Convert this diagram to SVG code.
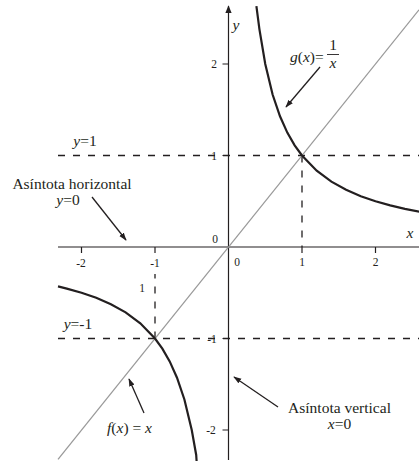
<svg xmlns="http://www.w3.org/2000/svg" width="419" height="461" viewBox="0 0 419 461">
<style>
text{font-family:"Liberation Serif","Times New Roman",serif;fill:#231f20}
.lbl{font-size:15.5px}
.tick{font-size:11.5px}
.it{font-style:italic}
.axis{stroke:#231f20;stroke-width:1.2;fill:none}
.dash{stroke:#231f20;stroke-width:1.3;stroke-dasharray:7 8;fill:none}
.curve{stroke:#231f20;stroke-width:2.2;fill:none}
.idl{stroke:#9a9a9a;stroke-width:1.3;fill:none}
.arr{stroke:#231f20;stroke-width:1.3;fill:none;marker-end:url(#ah)}
</style>
<defs>
<marker id="ah" viewBox="0 0 10 10" refX="9" refY="5" markerWidth="8" markerHeight="8" markerUnits="userSpaceOnUse" orient="auto">
<path d="M0,1.5 L10,5 L0,8.5 Z" fill="#231f20"/>
</marker>
<marker id="axh" viewBox="0 0 10 10" refX="9" refY="5" markerWidth="8" markerHeight="8" markerUnits="userSpaceOnUse" orient="auto">
<path d="M0,1 L10,5 L0,9 Z" fill="#231f20"/>
</marker>
</defs>
<g id="axes">
<line class="axis" x1="58" y1="247" x2="419" y2="247"/>
<line class="axis" x1="228.5" y1="460" x2="228.5" y2="6" marker-end="url(#axh)"/>
<path class="axis" d="M81.5,247v6M155,247v6M302,247v6M375.5,247v6M222.5,64h6M222.5,155.5h6M222.5,338.5h6M222.5,430h6"/>
<text class="tick" x="81" y="267" text-anchor="middle">-2</text>
<text class="tick" x="155" y="267" text-anchor="middle">-1</text>
<text class="tick" x="302" y="266" text-anchor="middle">1</text>
<text class="tick" x="375.5" y="266" text-anchor="middle">2</text>
<text class="tick" x="237" y="266" text-anchor="middle">0</text>
<text class="tick" x="215" y="243" text-anchor="middle">0</text>
<text class="tick" x="214" y="68" text-anchor="middle">2</text>
<text class="tick" x="214" y="160" text-anchor="middle">1</text>
<text class="tick" x="212" y="343" text-anchor="middle">-1</text>
<text class="tick" x="211" y="434" text-anchor="middle">-2</text>
<text class="lbl it" x="410" y="238" text-anchor="middle">x</text>
<text class="lbl it" x="236" y="30" text-anchor="middle">y</text>
</g>
<g id="asymptote-lines">
<line class="dash" x1="58" y1="155.5" x2="419" y2="155.5"/>
<line class="dash" x1="58" y1="338.5" x2="419" y2="338.5"/>
<line class="dash" x1="302" y1="155.5" x2="302" y2="247"/>
<line class="dash" x1="155" y1="338.5" x2="155" y2="274"/>
<text class="tick" x="142" y="292" text-anchor="middle">1</text>
<text class="lbl" x="85" y="146" text-anchor="middle"><tspan class="it">y</tspan>=1</text>
<text class="lbl" x="78" y="329" text-anchor="middle"><tspan class="it">y</tspan>=-1</text>
</g>
<g id="identity">
<line class="idl" x1="58" y1="459.3" x2="419" y2="9.8"/>
</g>
<g id="hyperbola">
<path class="curve" d="M256.4,6.2 L259.4,29.1 L265.25,64 L272.6,94.5 L280,116.3 L287.3,132.6 L294.65,145.3 L302,155.5 L316.7,170.75 L331.4,181.6 L346.1,189.8 L360.8,196.2 L375.5,201.25 L390.2,205.4 L404.9,208.9 L419.6,211.8"/>
<path class="curve" d="M58,286.4 L66.8,288.6 L81.5,292.75 L96.2,297.8 L110.9,304.2 L125.6,312.4 L140.3,323.25 L155,338.5 L162.35,348.7 L169.7,361.4 L177,377.7 L184.4,399.5 L191.75,430 L196.2,455 L196.6,461"/>
</g>
<g id="label-g">
<text class="lbl" x="290" y="62"><tspan class="it">g</tspan>(<tspan class="it">x</tspan>)=</text>
<text class="lbl" x="333" y="50" text-anchor="middle">1</text>
<line x1="327" y1="54.5" x2="339" y2="54.5" stroke="#231f20" stroke-width="0.9"/>
<text class="lbl it" x="333" y="68" text-anchor="middle">x</text>
</g>
<g id="label-f">
<text class="lbl" x="107" y="433"><tspan class="it">f</tspan>(<tspan class="it">x</tspan>) = <tspan class="it">x</tspan></text>
</g>
<g id="label-horizontal">
<text class="lbl" x="72" y="189" text-anchor="middle">Asíntota horizontal</text>
<text class="lbl" x="68" y="205" text-anchor="middle"><tspan class="it">y</tspan>=0</text>
</g>
<g id="label-vertical">
<text class="lbl" x="339.5" y="413" text-anchor="middle">Asíntota vertical</text>
<text class="lbl" x="339.5" y="429" text-anchor="middle"><tspan class="it">x</tspan>=0</text>
</g>
<g id="connectors">
<line class="arr" x1="320" y1="67" x2="286" y2="107"/>
<line class="arr" x1="92" y1="197" x2="126" y2="240"/>
<line class="arr" x1="144" y1="413" x2="129" y2="379"/>
<line class="arr" x1="278" y1="407" x2="234" y2="377"/>
</g>
</svg>
